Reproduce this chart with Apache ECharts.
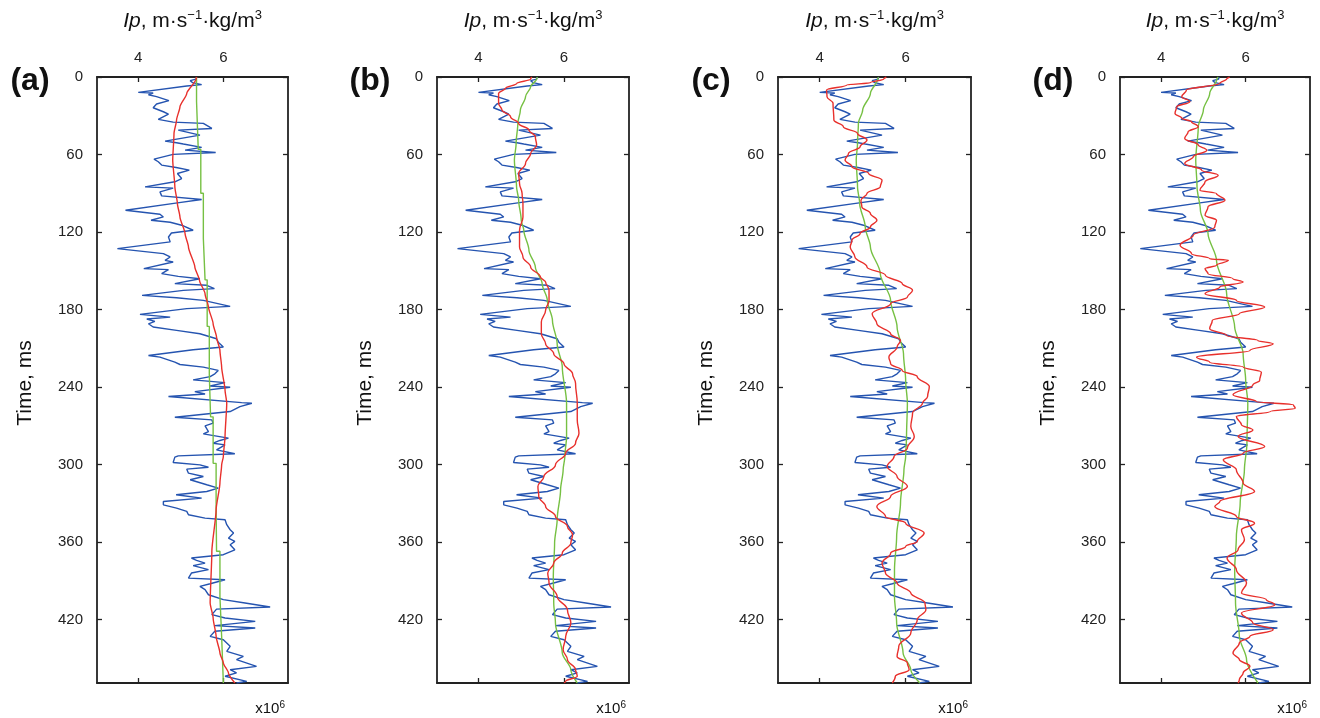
<!DOCTYPE html>
<html>
<head>
<meta charset="utf-8">
<script src="https://cdn.jsdelivr.net/npm/echarts@6/dist/echarts.min.js"></script>
<style>
html,body{margin:0;padding:0;background:#fff;}
#chart{width:1320px;height:718px;}
</style>
</head>
<body>
<div id="chart"></div>
<script>
// ---------- DATA (time in ms, Ip in 10^6 m·s^-1·kg/m^3) ----------
const panelLabels = ['(a)', '(b)', '(c)', '(d)'];
const timeTicks = [0, 60, 120, 180, 240, 300, 360, 420];
const ipTicks = [4, 6];

// well log (blue), same in every panel: [time, Ip]
const wellLogIp = [
[0,5.37],[1.6,5.36],[2.8,5.22],[4.4,5.28],[5.9,5.49],[7,5.14],[11.9,4.0],[12.4,4.35],[13.7,4.24],[15.2,4.43],[18.3,4.72],[20.9,4.43],[23.8,4.35],[26.9,4.59],[28.7,4.71],[32.8,4.47],[34.9,4.82],[35.9,5.53],[39.8,5.73],[41.1,4.94],[45,5.45],[49.6,4.63],[50.9,4.90],[51.9,5.06],[54.5,5.49],[56.6,5.10],[58.4,5.82],[59.9,4.82],[63.6,4.37],[65.6,4.47],[68.2,4.55],[70,4.89],[72.1,5.2],[74.7,4.92],[78.6,5.02],[81.1,4.86],[85,4.16],[86,4.82],[88.9,4.51],[92,4.55],[94.8,5.49],[97.4,4.92],[103.1,3.70],[106.2,4.51],[108.3,4.59],[110.9,4.30],[112.4,4.75],[114.7,5.02],[118.6,5.29],[120.7,4.78],[123.8,4.71],[127.6,4.75],[132.8,3.51],[136.7,4.59],[139.3,4.75],[141.9,4.63],[143.2,4.82],[148.3,4.13],[149.1,4.71],[152.2,4.55],[154.3,4.94],[156.1,5.45],[159.9,4.86],[161.2,5.61],[163.8,5.79],[165.1,5.06],[169,4.09],[170.8,4.90],[172.9,5.53],[177.5,6.16],[179.3,5.14],[183.7,4.04],[185.8,4.75],[187.3,4.20],[189.1,4.39],[191,4.24],[193.5,4.35],[196.1,4.90],[198.7,5.45],[202.6,5.84],[205.2,5.88],[209,6.0],[211.1,5.29],[215.5,4.24],[216.8,4.51],[220.7,4.86],[222.5,4.98],[224.5,5.53],[227.1,5.88],[229.7,5.80],[231.9,5.69],[234.4,5.29],[236.5,6.04],[239.1,5.69],[240.1,6.16],[243.5,5.33],[245.3,5.57],[247.3,4.71],[252,6.43],[252.5,6.67],[255.1,6.39],[258.9,6.16],[263.3,4.86],[265.4,5.73],[267.9,5.76],[270,5.57],[274.4,5.65],[276.2,5.53],[279.5,6.12],[281.3,5.92],[283.4,5.76],[284.7,6.04],[288.6,5.84],[291.6,6.27],[293.2,4.94],[294.2,4.86],[298.3,4.82],[300.2,5.45],[302,5.65],[303.5,5.14],[306.6,5.18],[309.2,5.53],[311.7,5.22],[315.6,5.61],[318.2,5.88],[320.8,5.61],[323.3,4.89],[325.9,5.49],[328.5,4.59],[331.1,4.59],[333.7,4.90],[336.2,5.14],[338.8,5.18],[341.4,5.57],[342.7,6.04],[346.5,6.08],[350.4,6.16],[353,6.24],[356.9,6.12],[359.4,6.27],[362,6.16],[365.9,6.27],[369.7,6.0],[372.3,5.25],[374.1,5.37],[376.2,5.57],[378.2,5.29],[381.3,5.65],[383.9,5.25],[387.8,5.18],[389.1,6.04],[392.2,5.69],[394.2,5.45],[396.8,5.57],[400.7,5.65],[404.5,6.0],[407.1,6.51],[410.2,7.10],[411.8,5.84],[416.1,5.73],[418.7,6.04],[421.3,6.75],[424.6,5.80],[426.4,6.75],[429,5.80],[432.9,5.69],[435.5,6.0],[440.6,6.16],[444.5,6.08],[448.4,6.47],[450.9,6.31],[456.1,6.78],[458.7,6.16],[461.2,6.31],[463.8,6.04],[467.7,6.55],[469,6.31]
];

// low-frequency models (green)
const lowFreqA = [[0,5.37],[19,5.37],[19,5.41],[56,5.41],[56,5.47],[90,5.47],[90,5.53],[125,5.53],[125,5.57],[157,5.57],[157,5.62],[193,5.62],[193,5.67],[230,5.67],[230,5.70],[263,5.70],[263,5.76],[299,5.76],[299,5.83],[332,5.83],[332,5.84],[367,5.84],[367,5.92],[402,5.92],[402,5.96],[433,5.96],[433,6.0],[469,6.0]];
const lowFreqB = [[0,5.38],[1.6,5.36],[7.5,5.22],[15.2,5.10],[25.6,4.98],[35.9,4.92],[51.4,4.88],[64.3,4.84],[85,4.89],[95.3,4.94],[110.9,5.0],[118.6,5.06],[134,5.18],[147,5.33],[160,5.49],[172.9,5.61],[188.4,5.73],[206.5,5.84],[224.5,5.96],[252.5,6.06],[278.2,6.06],[293.7,6.02],[304,5.98],[319.5,5.92],[342.7,5.84],[360.7,5.78],[386.5,5.75],[407.1,5.76],[422.6,5.80],[445.8,5.96],[458.7,6.16],[469,6.31]];
const lowFreqC = [[0,5.37],[1.6,5.35],[12.7,5.18],[25.6,5.0],[35.9,4.90],[51.4,4.88],[64.3,4.85],[85,4.88],[97.9,4.93],[116,5.06],[131.5,5.18],[152.2,5.41],[172.9,5.65],[193.5,5.80],[214.2,5.95],[234.9,6.0],[252.5,6.04],[278.2,6.02],[293.7,6.0],[304,5.96],[329.8,5.88],[355.6,5.79],[381.3,5.74],[402,5.74],[422.6,5.79],[445.8,5.94],[458.7,6.12],[469,6.33]];
const lowFreqD = [[0,5.35],[1.6,5.32],[12.7,5.15],[25.6,5.0],[38.5,4.88],[64.3,4.82],[85,4.85],[103.1,4.93],[121.2,5.11],[141.9,5.31],[167.7,5.55],[193.5,5.74],[214.2,5.94],[234.9,6.0],[252.5,6.05],[283.4,6.03],[304,5.97],[329.8,5.87],[355.6,5.78],[381.3,5.74],[407.1,5.76],[432.9,5.85],[450.9,6.02],[469,6.29]];

// inversion results (red)
const inversionA = [[0,5.37],[1.6,5.36],[12.7,5.14],[23,4.98],[33.3,4.90],[43.7,4.84],[64.3,4.81],[85,4.86],[97.9,4.92],[108.3,4.98],[121.2,5.10],[131.5,5.18],[147,5.33],[157.4,5.44],[167.7,5.57],[178,5.65],[191,5.76],[201.3,5.84],[211.6,5.92],[224.5,5.96],[242.2,6.04],[252.5,6.08],[278.2,6.04],[293.7,6.0],[300.2,5.96],[314.3,5.92],[335,5.83],[367.2,5.73],[407.1,5.69],[418.7,5.76],[432.9,5.83],[445.8,5.92],[453.5,6.0],[461.2,6.12],[469,6.27]];
const inversionB = [[0,5.25],[1.6,5.22],[4.9,4.90],[8.8,4.63],[12.7,4.47],[20.4,4.47],[25.6,4.55],[30.7,4.75],[35.9,4.94],[41.1,5.18],[46.3,5.33],[52.7,5.36],[59.2,5.22],[66.9,5.10],[74.7,4.94],[82.4,4.96],[90.2,5.02],[97.9,5.04],[108.3,5.04],[118.6,4.96],[131.5,4.96],[139.3,5.04],[147,5.22],[154.8,5.45],[158.7,5.57],[165.1,5.65],[172.9,5.65],[180.6,5.57],[189.7,5.47],[198.7,5.47],[206.5,5.57],[214.2,5.76],[222,6.0],[229.7,6.20],[237,6.27],[252.5,6.31],[265.4,6.31],[275.7,6.35],[283.4,6.27],[291.1,6.04],[300.2,5.80],[309.2,5.53],[316.9,5.39],[324.6,5.41],[332.4,5.57],[340.1,5.80],[347.8,6.08],[354.3,6.20],[360.7,6.16],[368.5,5.96],[376.2,5.76],[383.9,5.62],[391.6,5.65],[402,5.84],[412.3,6.08],[422.6,6.16],[432.9,6.04],[443.2,5.98],[450.9,6.08],[458.7,6.27],[463.8,6.31],[467.7,6.04],[469,6.0]];
const inversionC = [[0,5.55],[1.6,5.49],[4.4,5.18],[6.2,4.63],[10.1,4.16],[15.2,4.17],[20.4,4.31],[33.3,4.33],[38.5,4.55],[43.7,4.88],[48.8,5.10],[54,4.94],[59.2,4.67],[64.3,4.59],[69.5,4.75],[74.7,5.14],[79.8,5.45],[85,5.41],[90.2,5.10],[95.3,4.96],[100.5,4.98],[105.7,5.18],[110.9,5.33],[116,5.18],[121.2,4.94],[126.4,4.75],[131.5,4.71],[139.3,4.82],[147,5.10],[153.5,5.53],[159.9,5.92],[165.1,6.16],[170.3,6.04],[175.4,5.65],[183.2,5.22],[191,5.33],[198.7,5.65],[203.9,5.88],[209,5.80],[216.8,5.61],[222,5.65],[227.1,5.92],[231.9,6.27],[239.6,6.55],[247.3,6.51],[252.5,6.39],[260.2,6.16],[270.5,6.12],[278.2,6.20],[287.3,6.04],[293.7,5.73],[301.4,5.57],[309.2,5.80],[316.9,6.04],[324.6,5.65],[332.4,5.33],[340.1,5.53],[345.3,6.0],[353,6.43],[359.4,6.27],[363.3,6.0],[368.5,5.65],[376.2,5.45],[383.9,5.53],[391.6,5.80],[399.4,6.12],[407.1,6.45],[412.3,6.47],[420,6.27],[430.3,6.12],[440.6,5.84],[448.4,5.80],[453.5,6.04],[458.7,6.08],[463.8,5.76],[469,5.69]];
const inversionD = [[0,5.62],[1.6,5.55],[4.9,5.39],[10.1,4.60],[15.2,4.49],[19.1,4.68],[23,4.37],[28.2,4.33],[32,4.49],[34.6,4.72],[38.5,4.88],[42.4,4.64],[47.5,4.56],[52.7,4.88],[56.6,5.08],[61.8,4.76],[66.9,4.56],[72.1,4.96],[76,5.35],[81.1,5.04],[87.6,4.92],[90.2,5.31],[95.3,5.51],[100.5,5.11],[107,5.04],[110.9,5.31],[116,5.27],[122.5,4.76],[130.2,4.45],[136.7,4.72],[140.6,5.15],[141.9,5.59],[145.7,5.31],[148.3,5.04],[152.2,5.11],[156.1,5.70],[158.7,5.94],[162.5,5.39],[167.7,5.04],[172.9,5.78],[178,6.45],[183.2,5.85],[188.4,5.21],[194.8,5.15],[200,5.55],[203.9,6.29],[206.5,6.65],[211.6,6.10],[216.8,4.84],[220.7,5.15],[224.5,5.94],[228.4,6.37],[234.9,6.33],[238.3,6.17],[246,5.70],[251.2,6.25],[253.8,7.13],[256.3,7.17],[258.9,6.58],[262.8,5.78],[269.2,5.90],[273.1,6.17],[278.2,5.82],[286,6.45],[291.1,5.94],[296.3,5.47],[304,5.78],[314.3,5.94],[320.8,6.21],[328.5,5.39],[332.4,5.27],[340.1,5.78],[345.3,6.21],[350.4,5.90],[358.1,5.97],[365.9,5.82],[372.3,5.56],[381.3,5.78],[391.6,6.02],[399.4,5.90],[404.5,6.49],[408.4,6.69],[414.8,5.90],[422.6,6.17],[427.8,6.65],[432.9,6.10],[438,5.85],[445.8,5.70],[450.9,5.85],[456.1,6.10],[461.2,5.94],[466.5,5.85],[469,5.82]];

const lowFreqModels = [lowFreqA, lowFreqB, lowFreqC, lowFreqD];
const inversions = [inversionA, inversionB, inversionC, inversionD];

// ---------- LAYOUT ----------
const FONT = '"Liberation Sans", Arial, Helvetica, sans-serif';
const gridLefts = [97, 437, 778, 1120];
const gridWidths = [191, 192, 193, 190];
const gridTop = 77, gridHeight = 606;
const ipMin = 3.03, ipMax = 7.52, tMin = 0, tMax = 469;
const frameColor = '#222';

const grids = [], xAxes = [], yAxes = [], series = [], graphics = [];
const toXY = arr => arr.map(p => [p[1], p[0]]);

for (let i = 0; i < 4; i++) {
  const L = gridLefts[i], W = gridWidths[i];
  grids.push({left: L, top: gridTop, width: W, height: gridHeight, containLabel: false});
  const axLine = {show: true, onZero: false, lineStyle: {color: frameColor, width: 1.8}};
  const tickStyle = {color: frameColor, width: 1.3};
  xAxes.push({
    type: 'value', gridIndex: i, position: 'top', min: ipMin, max: ipMax,
    axisLine: axLine,
    axisTick: {show: true, inside: true, length: 5, customValues: ipTicks, lineStyle: tickStyle},
    axisLabel: {show: true, customValues: ipTicks, margin: 12, fontSize: 15, color: '#222', fontFamily: FONT},
    splitLine: {show: false}
  });
  xAxes.push({
    type: 'value', gridIndex: i, position: 'bottom', min: ipMin, max: ipMax,
    axisLine: axLine,
    axisTick: {show: true, inside: true, length: 5, customValues: ipTicks, lineStyle: tickStyle},
    axisLabel: {show: false},
    splitLine: {show: false}
  });
  yAxes.push({
    type: 'value', gridIndex: i, position: 'left', inverse: true, min: tMin, max: tMax, interval: 60,
    axisLine: axLine,
    axisTick: {show: true, inside: true, length: 5, customValues: timeTicks, lineStyle: tickStyle},
    axisLabel: {show: true, customValues: timeTicks, margin: 14, fontSize: 15, color: '#222', fontFamily: FONT},
    splitLine: {show: false}
  });
  yAxes.push({
    type: 'value', gridIndex: i, position: 'right', inverse: true, min: tMin, max: tMax, interval: 60,
    axisLine: axLine,
    axisTick: {show: true, inside: true, length: 5, customValues: timeTicks, lineStyle: tickStyle},
    axisLabel: {show: false},
    splitLine: {show: false}
  });

  const common = {type: 'line', xAxisIndex: 2 * i, yAxisIndex: 2 * i, showSymbol: false, symbol: 'none',
                  silent: true, animation: false, clip: true};
  series.push(Object.assign({}, common, {
    name: 'well log', data: toXY(wellLogIp), z: 2,
    lineStyle: {color: '#2554b0', width: 1.4}
  }));
  series.push(Object.assign({}, common, {
    name: 'low-frequency model', data: toXY(lowFreqModels[i]), z: 3,
    smooth: i === 0 ? false : 0.3, smoothMonotone: 'y',
    lineStyle: {color: '#76c043', width: 1.4}
  }));
  series.push(Object.assign({}, common, {
    name: 'inversion', data: toXY(inversions[i]), z: 4,
    smooth: i === 0 ? 0.2 : 0.4, smoothMonotone: 'y',
    lineStyle: {color: '#e8302c', width: 1.4}
  }));

  graphics.push({
    type: 'text', x: L - 67, y: 81,
    style: {text: panelLabels[i], font: 'bold 32px ' + FONT, fill: '#111', align: 'center', verticalAlign: 'middle'}
  });
  graphics.push({
    type: 'text', x: L + W / 2, y: 21,
    style: {
      text: '{i|Ip}{n|, m·s}{s|−1}{n|·kg/m}{s|3}',
      align: 'center', verticalAlign: 'middle', fill: '#111',
      rich: {
        i: {fontSize: 21, fontStyle: 'italic', fontFamily: FONT, fill: '#111', lineHeight: 24},
        n: {fontSize: 21, fontFamily: FONT, fill: '#111', lineHeight: 24},
        s: {fontSize: 13, fontFamily: FONT, fill: '#111', lineHeight: 15, verticalAlign: 'top'}
      }
    }
  });
  graphics.push({
    type: 'text', x: L - 72, y: gridTop + gridHeight / 2 + 3, rotation: Math.PI / 2,
    style: {text: 'Time, ms', font: '21px ' + FONT, fill: '#111', align: 'center', verticalAlign: 'middle'}
  });
  graphics.push({
    type: 'text', x: L + W - 3, y: 709,
    style: {
      text: '{n|x10}{s|6}', align: 'right', verticalAlign: 'middle', fill: '#111',
      rich: {
        n: {fontSize: 15, fontFamily: FONT, fill: '#111', lineHeight: 17},
        s: {fontSize: 10, fontFamily: FONT, fill: '#111', lineHeight: 11, verticalAlign: 'top'}
      }
    }
  });
}

const chart = echarts.init(document.getElementById('chart'), null, {renderer: 'canvas'});
chart.setOption({
  backgroundColor: '#ffffff',
  animation: false,
  grid: grids,
  xAxis: xAxes,
  yAxis: yAxes,
  series: series,
  graphic: graphics
});
</script>
</body>
</html>
